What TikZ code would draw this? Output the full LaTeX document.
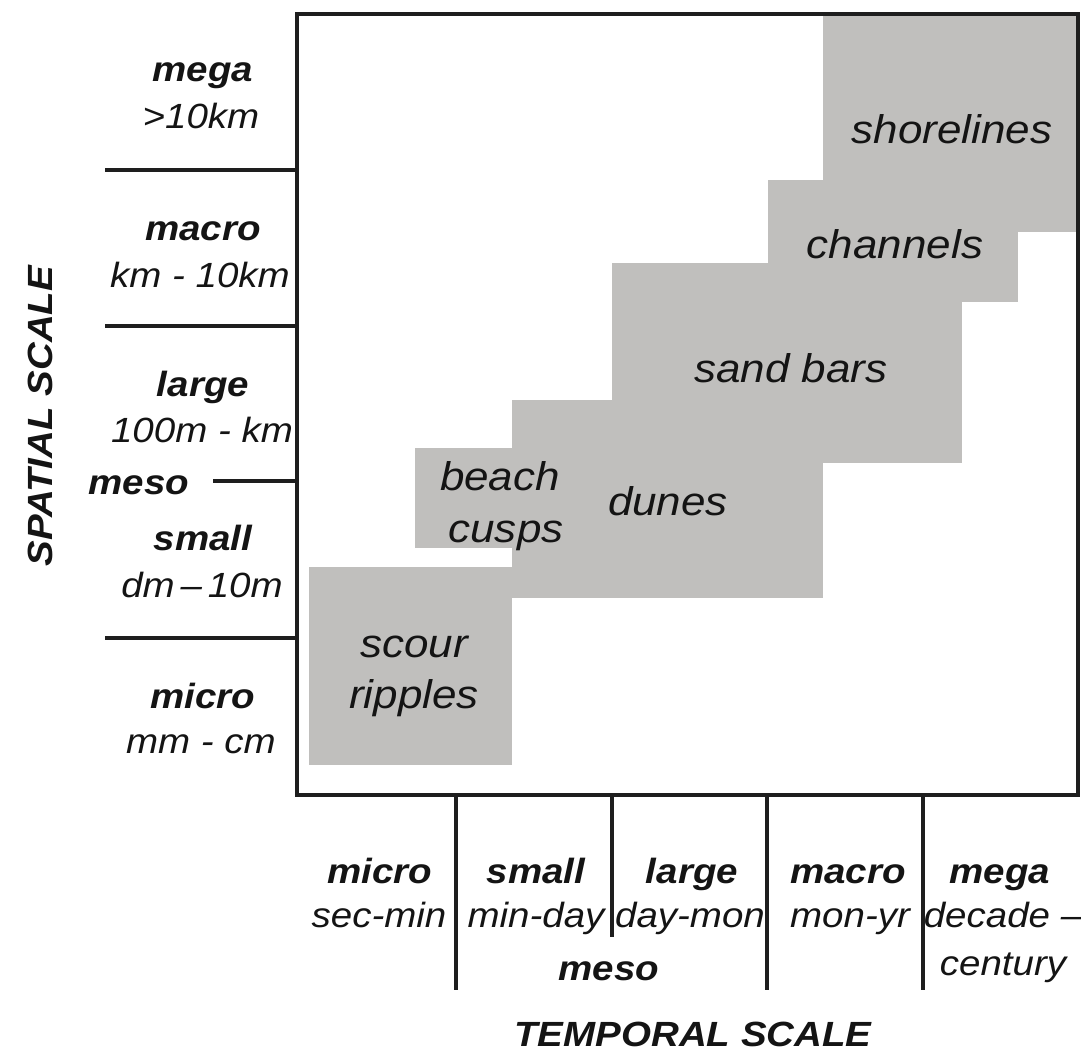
\documentclass[tikz,border=0pt]{standalone}
\usepackage{fontspec}
\setmainfont{Liberation Sans}[FakeStretch=1.1]
\definecolor{blockgrey}{RGB}{192,191,189}
\definecolor{axisc}{RGB}{30,30,30}
\definecolor{textc}{RGB}{20,20,20}
\begin{document}
\begin{tikzpicture}[x=1pt,y=-1pt,
  lab/.style={font=\fontsize{35}{40}\selectfont\itshape, anchor=base, inner sep=0pt, text=textc},
  labb/.style={font=\fontsize{35}{40}\selectfont\bfseries\itshape, anchor=base, inner sep=0pt, text=textc},
  blk/.style={font=\fontsize{40}{46}\selectfont\itshape, anchor=base, inner sep=0pt, text=textc},
  blockfill/.style={fill=blockgrey},
  tickline/.style={line width=3.2pt, draw=axisc},
  frameline/.style={line width=3.8pt, draw=axisc}]
\useasboundingbox (0,0) rectangle (1081,1052);
% grey blocks
\fill[blockfill] (823,14) rectangle (1078,232);
\fill[blockfill] (768,180) rectangle (1018,302);
\fill[blockfill] (612,263) rectangle (962,463);
\fill[blockfill] (512,400) rectangle (823,598);
\fill[blockfill] (415,448) rectangle (512,548);
\fill[blockfill] (309,567) rectangle (512,765);
% frame
\draw[frameline] (297,14) rectangle (1078,795);
% frame anchor coordinates
\coordinate (L1) at (297,170); \coordinate (L1e) at (105,170);
\coordinate (L2) at (297,326); \coordinate (L2e) at (105,326);
\coordinate (L3) at (297,481); \coordinate (L3e) at (213,481);
\coordinate (L4) at (297,638); \coordinate (L4e) at (105,638);
\coordinate (B1) at (456,795); \coordinate (B1e) at (456,990);
\coordinate (B2) at (612,795); \coordinate (B2e) at (612,937);
\coordinate (B3) at (767,795); \coordinate (B3e) at (767,990);
\coordinate (B4) at (923,795); \coordinate (B4e) at (923,990);
\draw[tickline] (L1) -- (L1e);
\draw[tickline] (L2) -- (L2e);
\draw[tickline] (L3) -- (L3e);
\draw[tickline] (L4) -- (L4e);
\draw[tickline] (B1) -- (B1e);
\draw[tickline] (B2) -- (B2e);
\draw[tickline] (B3) -- (B3e);
\draw[tickline] (B4) -- (B4e);
% block labels
\node[blk] (shore) at (952,143) {shorelines};
\node[blk] (chan) at (895,258) {channels};
\node[blk] (sand) at (791,382) {sand bars};
\node[blk] (beach) at (500,490) {beach};
\node[blk] (cusps) at (506,542) {cusps};
\node[blk] (dunes) at (668,515) {dunes};
\node[blk] (scour) at (414,657) {scour};
\node[blk] (ripples) at (414,708) {ripples};
% spatial labels
\node[labb] (smega) at (203,81) {mega};
\node[lab] (smegar) at (201,128) {>10km};
\node[labb] (smacro) at (203,240) {macro};
\node[lab] (smacror) at (200,287) {km - 10km};
\node[labb] (slarge) at (203,396) {large};
\node[lab] (slarger) at (202,442) {100m - km};
\node[labb] (smeso) at (139,494) {meso};
\node[labb] (ssmall) at (203,550) {small};
\node[lab] (ssmallr) at (202,597) {dm\,–\,10m};
\node[labb] (smicro) at (203,708) {micro};
\node[lab] (smicror) at (201,753) {mm - cm};
\node[labb, rotate=90, anchor=center] (spatial) at (40,416) {SPATIAL SCALE};
% temporal labels
\node[labb] (tmicro) at (380,883) {micro};
\node[lab] (tmicror) at (379,927) {sec-min};
\node[labb] (tsmall) at (536,883) {small};
\node[lab] (tsmallr) at (536,927) {min-day};
\node[labb] (tlarge) at (692,883) {large};
\node[lab] (tlarger) at (690,927) {day-mon};
\node[labb] (tmacro) at (848,883) {macro};
\node[lab] (tmacror) at (850,927) {mon-yr};
\node[labb] (tmega) at (1000,883) {mega};
\node[lab] (tmegar) at (1003,927) {decade –};
\node[lab] (tmegar2) at (1003,975) {century};
\node[labb] (tmeso) at (609,980) {meso};
\node[labb] (temporal) at (693,1046) {TEMPORAL SCALE};
\end{tikzpicture}
\end{document}
